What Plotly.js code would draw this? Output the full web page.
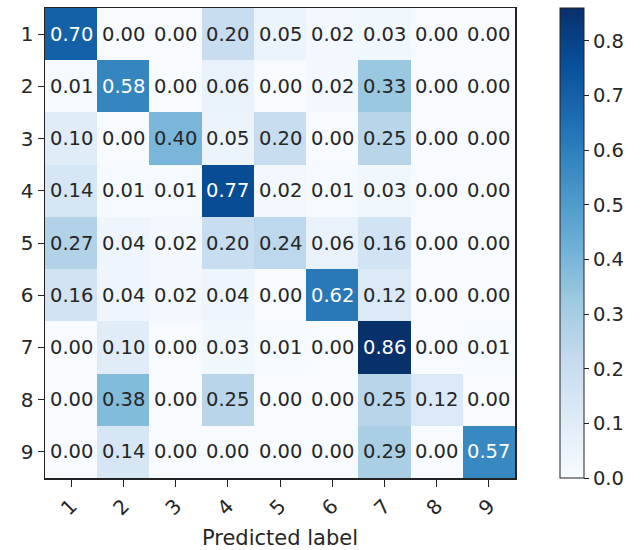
<!DOCTYPE html>
<html><head><meta charset="utf-8">
<script src="https://cdn.plot.ly/plotly-3.0.1.min.js"></script>
<style>html,body{margin:0;padding:0;background:#fff}</style>
</head><body><div id="chart" style="width:643px;height:550px"></div>
<script>
const predictedLabels = ['1','2','3','4','5','6','7','8','9'];
const trueLabels = ['1','2','3','4','5','6','7','8','9'];
const row1 = [0.70,0.00,0.00,0.20,0.05,0.02,0.03,0.00,0.00];
const row2 = [0.01,0.58,0.00,0.06,0.00,0.02,0.33,0.00,0.00];
const row3 = [0.10,0.00,0.40,0.05,0.20,0.00,0.25,0.00,0.00];
const row4 = [0.14,0.01,0.01,0.77,0.02,0.01,0.03,0.00,0.00];
const row5 = [0.27,0.04,0.02,0.20,0.24,0.06,0.16,0.00,0.00];
const row6 = [0.16,0.04,0.02,0.04,0.00,0.62,0.12,0.00,0.00];
const row7 = [0.00,0.10,0.00,0.03,0.01,0.00,0.86,0.00,0.01];
const row8 = [0.00,0.38,0.00,0.25,0.00,0.00,0.25,0.12,0.00];
const row9 = [0.00,0.14,0.00,0.00,0.00,0.00,0.29,0.00,0.57];
const z = [row1,row2,row3,row4,row5,row6,row7,row8,row9];

const blues = [[0,'#f7fbff'],[0.125,'#deebf7'],[0.25,'#c6dbef'],[0.375,'#9ecae1'],
  [0.5,'#6baed6'],[0.625,'#4292c6'],[0.75,'#2171b5'],[0.875,'#08519c'],[1,'#08306b']];
const zmax = Math.max(...z.flat());
const thresh = zmax/2;
const font = 'DejaVu Sans, sans-serif';

const annotations = [];
z.forEach((row,i)=>row.forEach((v,j)=>{
  annotations.push({x:j, y:i, xref:'x', yref:'y', text:v.toFixed(2), showarrow:false,
    font:{family:font, size:19.5, color: v>thresh ? '#ffffff' : '#262626'}});
}));

const trace = {type:'heatmap', x:predictedLabels, y:trueLabels, z:z, zmin:0, zmax:zmax,
  colorscale:blues, xgap:0, ygap:0, hoverinfo:'none',
  colorbar:{x:1.0957, xanchor:'left', xref:'paper', thickness:24, thicknessmode:'pixels',
    len:1, lenmode:'fraction', y:0.5, yanchor:'middle', outlinewidth:1, outlinecolor:'#222',
    ticks:'outside', ticklen:5, tickcolor:'#222', tickvals:[0,0.1,0.2,0.3,0.4,0.5,0.6,0.7,0.8],
    tickformat:'.1f', tickfont:{family:font,size:19.5,color:'#262626'}, xpad:0, ypad:0}};

const layout = {width:643, height:550, margin:{l:45,r:128,t:8,b:72},
  paper_bgcolor:'#fff', plot_bgcolor:'#fff',
  xaxis:{type:'category', range:[-0.5,8.5], showline:true, mirror:true, linecolor:'#222', linewidth:1.5,
    ticks:'outside', ticklen:7, tickcolor:'#222', tickangle:-45,
    tickfont:{family:font,size:20,color:'#262626'},
    title:{text:'Predicted label', font:{family:font,size:21,color:'#262626'}, standoff:12},
    showgrid:false, zeroline:false},
  yaxis:{type:'category', range:[8.5,-0.5], showline:true, mirror:true, linecolor:'#222', linewidth:1.5,
    ticks:'outside', ticklen:6, tickcolor:'#222', tickfont:{family:font,size:20,color:'#262626'},
    showgrid:false, zeroline:false},
  annotations:annotations};

Plotly.newPlot('chart',[trace],layout,{staticPlot:true,displayModeBar:false});
</script></body></html>
